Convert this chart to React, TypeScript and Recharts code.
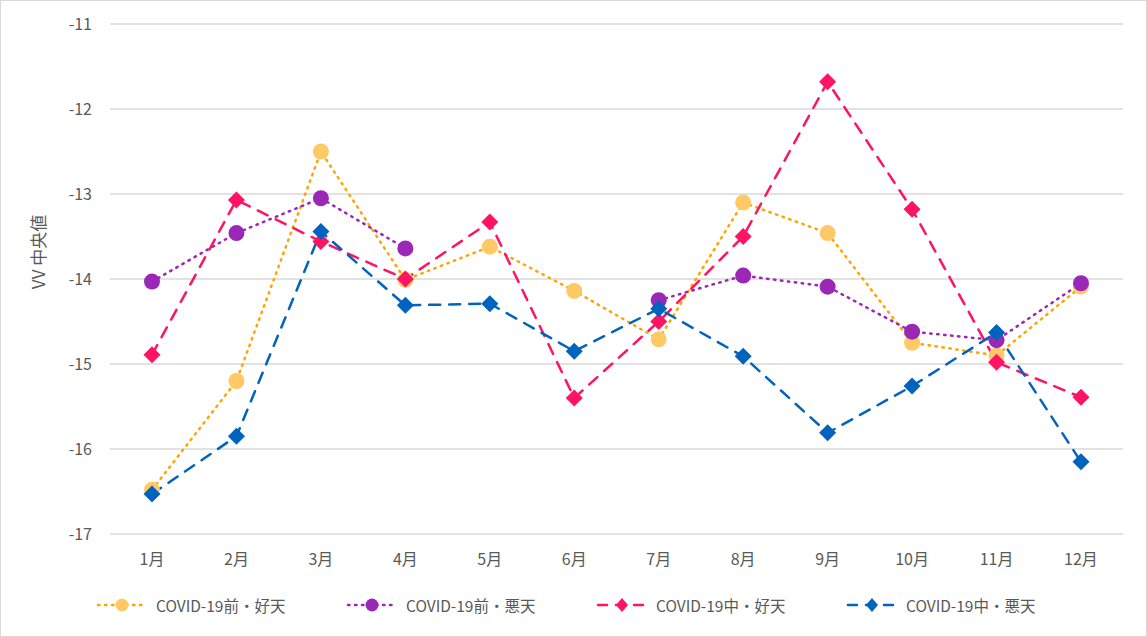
import React from 'react';
import {
  LineChart,
  Line,
  XAxis,
  YAxis,
  CartesianGrid,
  Legend,
} from 'recharts';

const months = ['1月', '2月', '3月', '4月', '5月', '6月', '7月', '8月', '9月', '10月', '11月', '12月'];

const preGood = [-16.48, -15.2, -12.5, -14.01, -13.62, -14.14, -14.71, -13.1, -13.46, -14.75, -14.9, -14.09];
const preBad = [-14.03, -13.46, -13.05, -13.64, null, null, -14.25, -13.96, -14.09, -14.62, -14.72, -14.05];
const duringGood = [-14.89, -13.07, -13.56, -14.0, -13.33, -15.4, -14.5, -13.5, -11.68, -13.18, -14.98, -15.39];
const duringBad = [-16.53, -15.85, -13.44, -14.31, -14.29, -14.85, -14.35, -14.91, -15.81, -15.26, -14.63, -16.15];

const yTicks = [-17, -16, -15, -14, -13, -12, -11];

const data = months.map((m, i) => ({
  month: m,
  preGood: preGood[i],
  preBad: preBad[i],
  duringGood: duringGood[i],
  duringBad: duringBad[i],
}));

const FONT = '"Noto Sans CJK JP", "Noto Sans", sans-serif';
const TEXT = '#595959';

const series = [
  { key: 'preGood', name: 'COVID-19前・好天', stroke: '#FFA500', fill: '#FFC966', shape: 'circle', dash: '1.5 5.5', width: 2.5 },
  { key: 'preBad', name: 'COVID-19前・悪天', stroke: '#9B27B6', fill: '#9B27B6', shape: 'circle', dash: '1.5 5.5', width: 2.5 },
  { key: 'duringGood', name: 'COVID-19中・好天', stroke: '#FF1464', fill: '#FF1464', shape: 'diamond', dash: '11 9', width: 2.5 },
  { key: 'duringBad', name: 'COVID-19中・悪天', stroke: '#0063BE', fill: '#0063BE', shape: 'diamond', dash: '11 9', width: 2.5 },
];

const Marker = ({ cx, cy, shape, fill }: any) => {
  if (cx == null || cy == null) return null;
  if (shape === 'circle') {
    return <circle cx={cx} cy={cy} r={8} fill={fill} />;
  }
  const s = 8.5;
  return (
    <polygon
      points={`${cx},${cy - s} ${cx + s},${cy} ${cx},${cy + s} ${cx - s},${cy}`}
      fill={fill}
    />
  );
};

const renderLegend = () => (
  <div style={{ display: 'flex', paddingLeft: 96, paddingTop: 30, fontFamily: FONT }}>
    {series.map(s => (
      <div key={s.key} style={{ display: 'flex', alignItems: 'center', width: 250 }}>
        <svg width={52} height={20}>
          <line x1={2} y1={10} x2={50} y2={10} stroke={s.stroke} strokeWidth={2.5} strokeDasharray={s.shape === 'circle' ? '1.5 5.5' : '9 9'} strokeLinecap="round" />
          {s.shape === 'circle' ? (
            <circle cx={26} cy={10} r={6.5} fill={s.fill} />
          ) : (
            <polygon points="26,3 32,10 26,17 20,10" fill={s.fill} />
          )}
        </svg>
        <span style={{ marginLeft: 8, fontSize: 15.5, color: TEXT }}>{s.name}</span>
      </div>
    ))}
  </div>
);

const YLabel = () => (
  <text
    x={40}
    y={252}
    transform="rotate(-90, 40, 252)"
    textAnchor="middle"
    dominantBaseline="middle"
    fill={TEXT}
    fontSize={17}
    fontFamily={FONT}
  >
    VV 中央値
  </text>
);

export default function App() {
  return (
    <div style={{ position: 'absolute', left: 0, top: 0, width: 1147, height: 637, background: '#fff' }}>
      <div style={{ position: 'absolute', inset: 0, border: '1px solid #d9d9d9', boxSizing: 'border-box', pointerEvents: 'none', zIndex: 2 }} />
      <LineChart
        width={1147}
        height={637}
        data={data}
        margin={{ top: 24, right: 24, left: 0, bottom: 0 }}
        style={{ fontFamily: FONT }}
      >
        <CartesianGrid vertical={false} stroke="#d9d9d9" strokeWidth={1.5} />
        <XAxis
          dataKey="month"
          axisLine={false}
          tickLine={false}
          height={30}
          tickSize={0}
          tickMargin={20}
          padding={{ left: 42, right: 42 }}
          tick={{ fill: TEXT, fontSize: 16 }}
        />
        <YAxis
          domain={[-17, -11]}
          ticks={yTicks}
          width={110}
          axisLine={false}
          tickLine={false}
          tickSize={0}
          tickMargin={18}
          tick={{ fill: TEXT, fontSize: 16 }}
          label={<YLabel />}
        />
        <Legend verticalAlign="bottom" content={renderLegend} wrapperStyle={{ height: 73 }} />
        {series.map(s => (
          <Line
            key={s.key}
            type="linear"
            dataKey={s.key}
            name={s.name}
            stroke={s.stroke}
            strokeWidth={s.width}
            strokeDasharray={s.dash}
            strokeLinecap="round"
            connectNulls={false}
            dot={(p: any) => <Marker key={`${s.key}-${p.index}`} cx={p.cx} cy={p.cy} shape={s.shape} fill={s.fill} />}
            activeDot={false}
            isAnimationActive={false}
          />
        ))}
      </LineChart>
    </div>
  );
}
